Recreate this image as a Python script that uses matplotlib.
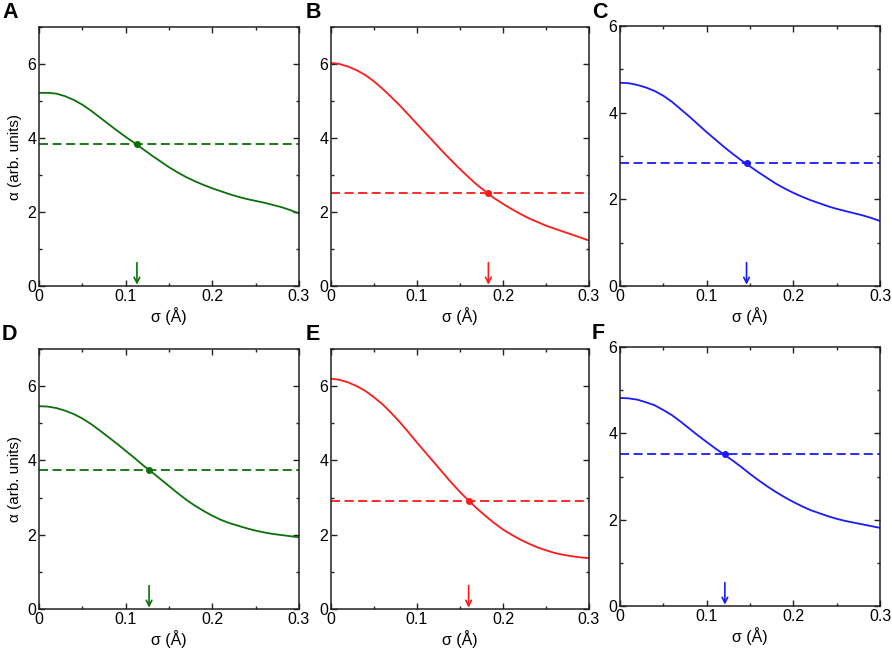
import numpy as np
import matplotlib
matplotlib.use("Agg")
import matplotlib.pyplot as plt
from matplotlib.ticker import MultipleLocator

plt.rcParams['font.family'] = ['Liberation Sans', 'DejaVu Sans']

# sigma grid the curves were read on (Angstrom), step 0.01
sigma = [round(0.01 * k, 2) for k in range(31)]

curve_A = [5.22, 5.22, 5.20, 5.13, 5.03, 4.90, 4.74, 4.56, 4.38, 4.20,
           4.03, 3.87, 3.70, 3.53, 3.37, 3.21, 3.07, 2.94, 2.83, 2.73,
           2.64, 2.56, 2.48, 2.41, 2.35, 2.30, 2.25, 2.19, 2.13, 2.05, 1.96]
curve_B = [6.03, 6.00, 5.93, 5.83, 5.70, 5.53, 5.33, 5.11, 4.88, 4.63,
           4.38, 4.13, 3.88, 3.63, 3.39, 3.16, 2.94, 2.73, 2.55, 2.37,
           2.22, 2.08, 1.95, 1.83, 1.73, 1.63, 1.55, 1.47, 1.39, 1.31, 1.23]
curve_C = [4.69, 4.68, 4.64, 4.58, 4.50, 4.39, 4.25, 4.08, 3.91, 3.73,
           3.55, 3.38, 3.21, 3.05, 2.90, 2.76, 2.62, 2.49, 2.36, 2.25,
           2.15, 2.06, 1.98, 1.91, 1.84, 1.78, 1.73, 1.68, 1.63, 1.57, 1.50]
curve_D = [5.46, 5.45, 5.41, 5.34, 5.25, 5.13, 4.98, 4.81, 4.63, 4.45,
           4.26, 4.07, 3.87, 3.69, 3.50, 3.31, 3.12, 2.94, 2.78, 2.64,
           2.51, 2.40, 2.31, 2.24, 2.17, 2.11, 2.06, 2.02, 1.99, 1.96, 1.93]
curve_E = [6.20, 6.17, 6.10, 6.00, 5.87, 5.70, 5.51, 5.28, 5.03, 4.76,
           4.48, 4.21, 3.94, 3.67, 3.40, 3.15, 2.92, 2.70, 2.50, 2.31,
           2.14, 2.00, 1.87, 1.76, 1.66, 1.58, 1.51, 1.46, 1.42, 1.39, 1.37]
curve_F = [4.82, 4.81, 4.78, 4.72, 4.65, 4.54, 4.42, 4.27, 4.11, 3.95,
           3.80, 3.65, 3.51, 3.37, 3.22, 3.06, 2.91, 2.77, 2.64, 2.52,
           2.41, 2.31, 2.22, 2.15, 2.08, 2.02, 1.97, 1.93, 1.89, 1.85, 1.81]

# dashed reference level and crossing point (arrow position)
levels = [3.84, 2.50, 2.83, 3.75, 2.92, 3.51]
cross = [0.113, 0.183, 0.146, 0.127, 0.160, 0.121]

letters = ["A", "B", "C", "D", "E", "F"]
curves = [curve_A, curve_B, curve_C, curve_D, curve_E, curve_F]
colors = ["#0b700b", "#ff1a1a", "#1a1aff", "#0b700b", "#ff1a1a", "#1a1aff"]
ymax = [7, 7, 6, 7, 7, 6]

W, H = 892, 650
# axes boxes in pixels: left, top, right, bottom
boxes = [(39, 27, 299, 286), (331, 27, 589, 286), (620, 26, 880, 286),
         (39, 349, 299, 609), (331, 349, 589, 609), (620, 347, 880, 606)]
letter_x = [2, 306, 592, 2, 306, 592]

fig = plt.figure(figsize=(W / 100, H / 100), dpi=100)

for i in range(6):
    l, t, r, b = boxes[i]
    ax = fig.add_axes([l / W, 1 - b / H, (r - l) / W, (b - t) / H])
    c = colors[i]
    ax.plot(sigma, curves[i], color=c, lw=1.3, solid_joinstyle="round")
    ax.axhline(levels[i], color=c, lw=1.3, ls=(0, (5, 2.5)))
    ax.plot([cross[i]], [levels[i]], "o", color=c, ms=4)
    ax.annotate("", xy=(cross[i], 0.005), xycoords=("data", "axes fraction"),
                xytext=(cross[i], 0.09), textcoords=("data", "axes fraction"),
                arrowprops=dict(arrowstyle="->", color=c, lw=1.2,
                                shrinkA=0, shrinkB=0, mutation_scale=10))
    ax.set_xlim(0, 0.3)
    ax.set_ylim(0, ymax[i])
    ax.set_xticks([0, 0.1, 0.2, 0.3])
    ax.set_xticklabels(["0", "0.1", "0.2", "0.3"])
    ax.set_yticks(range(0, ymax[i] + 1, 2))
    ax.xaxis.set_minor_locator(MultipleLocator(0.05))
    ax.yaxis.set_minor_locator(MultipleLocator(1))
    ax.tick_params(which="both", direction="in", top=True, right=True,
                   labelsize=11.5, width=1.0, colors="#222222", labelcolor="black")
    ax.tick_params(which="major", length=4, pad=2)
    ax.tick_params(which="minor", length=2.5)
    for s in ax.spines.values():
        s.set_linewidth(1.1)
        s.set_color("#222222")
    ax.set_xlabel("σ (Å)", fontsize=11.5, labelpad=2)
    if i % 3 == 0:
        ax.set_ylabel("α (arb. units)", fontsize=11, labelpad=4)
    fig.text(letter_x[i] / W, 1 - (t - 14) / H, letters[i],
             fontsize=15.5, fontweight="bold", va="center", ha="left")

fig.savefig("out.png", dpi=100)
